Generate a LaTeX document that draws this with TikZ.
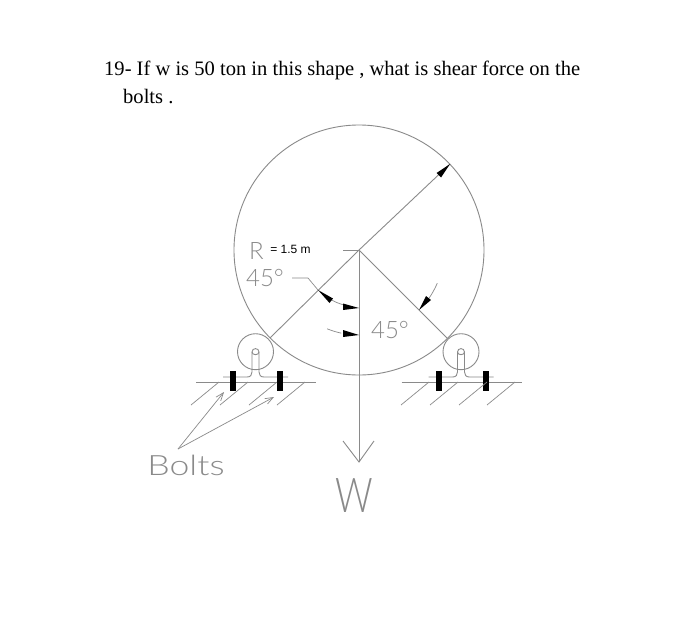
\documentclass[tikz,border=0pt]{standalone}
\usepackage{fontspec}
\setmainfont{Liberation Serif}
\newfontfamily\labelsans{Liberation Sans}
\newfontfamily\cadfont{Lato Light}
\usetikzlibrary{arrows.meta}
\definecolor{cad}{HTML}{8A8A8A}
\tikzset{
  cadline/.style={draw=cad,line width=0.9pt},
  thinline/.style={draw=cad,line width=0.7pt},
  head/.style={fill=black,draw=none},
  cadtext/.style={text=cad,inner sep=0pt,font=\cadfont},
  titletext/.style={anchor=base west,inner sep=0pt,font=\fontsize{20.55}{24}\selectfont},
}
\newcommand{\supportat}[3]{% x offset, hatch x offset, name
  \begin{scope}[xshift=#1pt]
    \draw[cadline] (196,382) -- (316,382);
    \draw[cadline] (255.5,351.7) circle (18);
    \draw[cadline] (223,377) -- (247,377) .. controls (250.5,377) and (252,375) .. (252,372) -- (252,352)
      .. controls (252,347.5) and (259,347.5) .. (259,352) -- (259,372)
      .. controls (259,375) and (260.5,377) .. (264,377) -- (288,377);
    \draw[cadline] (252,352) .. controls (252,355.5) and (259,355.5) .. (259,352);
    \fill[black] (230,371) rectangle (236,391);
    \fill[black] (277,371) rectangle (283,391);
  \end{scope}
  \begin{scope}[xshift=#2pt]
    \foreach \hx in {0,29,58,86}{
      \draw[thinline] ({191+\hx},405) -- ({219+\hx},382);
    }
  \end{scope}
}
\begin{document}
\begin{tikzpicture}[x=1pt,y=-1pt]
\useasboundingbox (0,0) rectangle (700,616);
\fill[white] (0,0) rectangle (700,616);

\node[titletext] (line1) at (104,75) {19- If w is 50 ton in this shape , what is shear force on the};
\node[titletext] (line2) at (123,103) {bolts .};

\coordinate (O) at (359,250);
\coordinate (RA) at (450,164);
\coordinate (LT) at (270,338);
\coordinate (RT) at (447,338);
\coordinate (WT) at (359,462);
\coordinate (BF) at (178,449);
\coordinate (B1) at (224,392);
\coordinate (B2) at (274,397);

\draw[cadline] (O) circle (125);
\draw[cadline] (LT) -- (O) -- (RA);
\draw[cadline] (O) -- (RT);
\draw[cadline] (O) -- (WT);
\draw[cadline] (343,250) -- (O);
\draw[cadline] (343,441) -- (WT) -- (374,441);

\fill[head] (RA) -- (436.5,173) -- (441,177.5) -- cycle;

% angle arcs
\draw[thinline] plot[domain=106:125,samples=12,smooth] ({359+57*cos(\x)},{250+57*sin(\x)});
\draw[thinline] plot[domain=102:112,samples=8,smooth] ({359+85*cos(\x)},{250+85*sin(\x)});
\draw[thinline] plot[domain=23:38,samples=8,smooth] ({359+85*cos(\x)},{250+85*sin(\x)});
\fill[head] (318,290) -- (329.5,303) -- (333,298.5) -- cycle;
\fill[head] (359,308) -- (343,303.5) -- (343,310) -- cycle;
\fill[head] (359,335) -- (343,330) -- (343,337) -- cycle;
\fill[head] (419,310) -- (426,296) -- (431,300) -- cycle;

% labels
\node[cadtext,font=\cadfont\fontsize{24}{24}\selectfont] (rlab) at (256.5,251) {R};
\node[inner sep=0pt,font=\labelsans\fontsize{12}{12}\selectfont,text=black] (rval) at (290.5,249) {= 1.5 m};
\node[cadtext,font=\cadfont\fontsize{24}{24}\selectfont] (a1) at (265,278) {45°};
\node[cadtext,font=\cadfont\fontsize{24}{24}\selectfont] (a2) at (390,330) {45°};
\draw[thinline] (292,278) -- (308,278) -- (318,290);

\supportat{0}{0}{L}
\supportat{205.5}{210}{R}

% bolts
\node[cadtext,font=\cadfont\fontsize{28}{28}\selectfont,xscale=1.27] (bolts) at (186,465) {Bolts};
\draw[thinline,-{Straight Barb[length=8pt,width=6pt]}] (BF) -- (B1);
\draw[thinline,-{Straight Barb[length=8pt,width=6pt]}] (BF) -- (B2);

\node[cadtext,font=\cadfont\fontsize{48}{48}\selectfont,xscale=0.77] (wlab) at (354.5,496) {W};
\end{tikzpicture}
\end{document}
